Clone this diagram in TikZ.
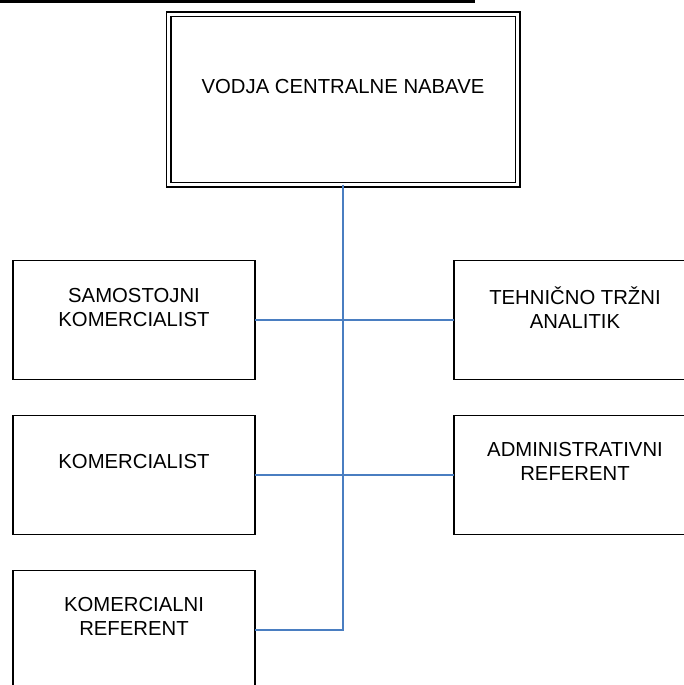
\documentclass[tikz,border=0pt]{standalone}
\usepackage{fontspec}
\setmainfont{Liberation Sans}
\definecolor{linkblue}{RGB}{74,126,193}
\begin{document}
\begin{tikzpicture}[x=1pt,y=-1pt,
  post/.style={draw=black,line width=1.6pt,minimum width=242pt,minimum height=119pt,inner sep=0pt,outer sep=0pt},
  head/.style={draw=black,double=white,double distance=3.6pt,line width=1.2pt,minimum width=349pt,minimum height=170pt,inner sep=0pt,outer sep=0pt},
  caption/.style={align=center,font=\fontsize{20.3}{24}\selectfont,inner sep=0pt},
  link/.style={draw=linkblue,line width=2pt}]
  \clip (0,0) rectangle (684,685);
  \fill[white] (0,0) rectangle (684,685);
  % rule across the top of the page
  \draw[line width=3pt] (0,1.5) -- (475,1.5);

  % head of department
  \node[head] (head) at (343,99.5) {};
  \node[caption] (headtxt) at (343,87) {VODJA CENTRALNE NABAVE};

  % left column
  \node[post] (samo) at (134,320) {};
  \node[caption] (samotxt) at (134,308) {SAMOSTOJNI\\KOMERCIALIST};
  \node[post] (kom) at (134,475) {};
  \node[caption] (komtxt) at (134,462) {KOMERCIALIST};
  \node[post] (ref) at (134,630) {};
  \node[caption] (reftxt) at (134,616) {KOMERCIALNI\\REFERENT};

  % right column
  \node[post] (teh) at (575,320) {};
  \node[caption] (tehtxt) at (575,308) {TEHNIČNO TRŽNI\\ANALITIK};
  \node[post] (adm) at (575,475) {};
  \node[caption] (admtxt) at (575,461) {ADMINISTRATIVNI\\REFERENT};

  % connectors
  \coordinate (spine) at (head.south |- ref.east);
  \draw[link] (head.south) -- (spine) -- (ref.east);
  \draw[link] (samo.east) -- (teh.west);
  \draw[link] (kom.east) -- (adm.west);
\end{tikzpicture}
\end{document}
